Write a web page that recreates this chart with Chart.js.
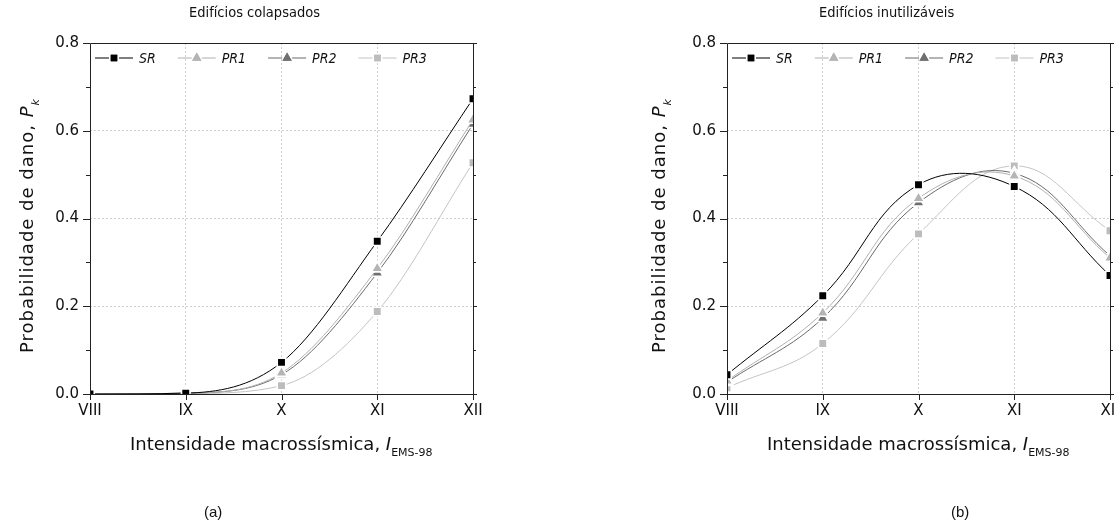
<!DOCTYPE html>
<html>
<head>
<meta charset="utf-8">
<script src="https://cdn.jsdelivr.net/npm/chart.js@4.4.0/dist/chart.umd.min.js"></script>
<style>
  html, body { margin:0; padding:0; width:1115px; height:529px; overflow:hidden; background:#fff; }
  body { position:relative; font-family:"DejaVu Sans",sans-serif; color:#111; }
  .cv { position:absolute; top:0; }
  .t { position:absolute; white-space:nowrap; line-height:1.2; }
  .title { font-family:"DejaVu Sans Condensed","DejaVu Sans",sans-serif; font-size:14.5px; top:4px; }
  .xt { font-size:18px; top:433px; }
  .yt { font-size:18px; letter-spacing:1px; transform-origin:0 0; transform:rotate(-90deg); top:353px; }
  .cap { font-family:"Liberation Sans",Arial,sans-serif; font-size:15px; top:503px; }
  sub { font-size:11px; vertical-align:-6px; letter-spacing:0; }
  i { font-style:italic; }
</style>
</head>
<body>
<div class="cv" style="left:0;width:500px;height:529px;"><canvas id="c1"></canvas></div>
<div class="cv" style="left:637px;width:500px;height:529px;"><canvas id="c2"></canvas></div>

<div class="t title" style="left:189px;">Edifícios colapsados</div>
<div class="t title" style="left:819px;">Edifícios inutilizáveis</div>
<div class="t xt" style="left:130px;">Intensidade macrossísmica, <i>I</i><sub>EMS-98</sub></div>
<div class="t xt" style="left:767px;">Intensidade macrossísmica, <i>I</i><sub>EMS-98</sub></div>
<div class="t yt" style="left:16px;">Probabilidade de dano, <i>P</i><sub><i>k</i></sub></div>
<div class="t yt" style="left:648px;">Probabilidade de dano, <i>P</i><sub><i>k</i></sub></div>
<div class="t cap" style="left:204px;">(a)</div>
<div class="t cap" style="left:951px;">(b)</div>

<script>
// ---- data ----
const intensities = [8, 9, 10, 11, 12];
const xTickLabels = ['VIII', 'IX', 'X', 'XI', 'XII'];
const seriesNames = ['SR', 'PR1', 'PR2', 'PR3'];

// Edifícios colapsados
const colSR  = [0.000, 0.002, 0.072, 0.348, 0.673];
const colPR1 = [0.000, 0.002, 0.048, 0.286, 0.625];
const colPR2 = [0.000, 0.002, 0.044, 0.276, 0.615];
const colPR3 = [0.000, 0.001, 0.019, 0.188, 0.527];

// Edifícios inutilizáveis
const inuSR  = [0.044, 0.224, 0.477, 0.473, 0.270];
const inuPR1 = [0.030, 0.185, 0.446, 0.497, 0.310];
const inuPR2 = [0.027, 0.173, 0.436, 0.503, 0.315];
const inuPR3 = [0.014, 0.115, 0.365, 0.520, 0.372];

// ---- styles ----
const styles = [
  { line:'#000000', fill:'#000000', shape:'rect',     r:6.0 },
  { line:'#b0b0b0', fill:'#b4b4b4', shape:'triangle', r:6.8 },
  { line:'#6a6a6a', fill:'#707070', shape:'triangle', r:6.8 },
  { line:'#c4c4c4', fill:'#bcbcbc', shape:'rect',     r:6.0 },
];
const FONT = '"DejaVu Sans",sans-serif';
const LFONT = '"DejaVu Sans Condensed","DejaVu Sans",sans-serif';

function toPts(arr){ return intensities.map((x,i)=>({x:x, y:arr[i]})); }

function makeDatasets(arrs, mode){
  return arrs.map((a,i)=>({
    label: seriesNames[i],
    data: toPts(a),
    borderColor: styles[i].line,
    borderWidth: 1,
    backgroundColor: styles[i].fill,
    pointStyle: styles[i].shape,
    pointRadius: styles[i].r,
    pointBorderColor: '#ffffff',
    pointBorderWidth: 1.6,
    pointBackgroundColor: styles[i].fill,
    tension: 0.4,
    cubicInterpolationMode: mode,
    clip: 0,
  }));
}

const frame = {
  id:'frame',
  afterDraw(chart){
    const {ctx, chartArea:a, scales:{x,y}} = chart;
    ctx.save();
    ctx.strokeStyle = '#222';
    ctx.lineWidth = 1;
    ctx.beginPath();
    ctx.rect(Math.round(a.left)+0.5, Math.round(a.top)+0.5, Math.round(a.right-a.left), Math.round(a.bottom-a.top));
    ctx.stroke();
    ctx.beginPath();
    for (let v=0; v<=8; v++){
      const py = Math.round(y.getPixelForValue(v/10))+0.5;
      const major = v%2===0;
      ctx.moveTo(a.left, py); ctx.lineTo(a.left-(major?7:4), py);
      ctx.moveTo(a.right, py); ctx.lineTo(a.right+(major?4:3), py);
    }
    for (let v=8; v<=12; v++){
      const px = Math.round(x.getPixelForValue(v))+0.5;
      ctx.moveTo(px, a.bottom); ctx.lineTo(px, a.bottom+6);
    }
    ctx.stroke();
    ctx.restore();
  }
};

const legendPlugin = {
  id:'inlegend',
  afterDraw(chart){
    const {ctx, chartArea:a} = chart;
    ctx.save();
    ctx.font = 'italic 14px ' + LFONT;
    ctx.textBaseline = 'middle';
    let xx = a.left + 5;
    const yy = a.top + 15;
    chart.data.datasets.forEach((ds)=>{
      ctx.strokeStyle = ds.borderColor;
      ctx.lineWidth = 1.2;
      ctx.beginPath();
      ctx.moveTo(xx, yy); ctx.lineTo(xx+14, yy);
      ctx.moveTo(xx+24, yy); ctx.lineTo(xx+38, yy);
      ctx.stroke();
      ctx.fillStyle = ds.pointBackgroundColor;
      Chart.helpers.drawPoint(ctx, {pointStyle: ds.pointStyle, radius: ds.pointRadius-1.4, rotation:0, borderWidth:0}, xx+19, yy);
      ctx.fill();
      ctx.fillStyle = '#111';
      ctx.fillText(ds.label, xx+44, yy+1);
      xx += 44 + ctx.measureText(ds.label).width + 22;
    });
    ctx.restore();
  }
};

function makeChart(id, datasets){
  return new Chart(document.getElementById(id), {
    type:'line',
    data:{ datasets },
    options:{
      responsive:true, maintainAspectRatio:false, animation:false,
      layout:{ padding:{ left:0, top:43, right:27, bottom:105 } },
      plugins:{ legend:{display:false}, tooltip:{enabled:false} },
      scales:{
        x:{
          type:'linear', min:8, max:12,
          afterFit(s){ s.height = 30; },
          afterBuildTicks(s){ s.ticks = intensities.map(v=>({value:v})); },
          ticks:{ callback:(v)=>xTickLabels[intensities.indexOf(v)] || '', color:'#111', font:{family:FONT, size:15}, padding:8, maxRotation:0, autoSkip:false },
          grid:{ color:(c)=> (c.tick && c.tick.value>8 && c.tick.value<12) ? '#cfcfcf' : 'rgba(0,0,0,0)', drawTicks:false, lineWidth:1 },
          border:{ display:false, dash:[2,2] },
        },
        y:{
          min:0, max:0.8,
          afterFit(s){ s.width = 90; },
          afterBuildTicks(s){ s.ticks = [0,0.2,0.4,0.6,0.8].map(v=>({value:v})); },
          ticks:{ callback:(v)=>v.toFixed(1), color:'#111', font:{family:FONT, size:15}, padding:11 },
          grid:{ color:(c)=> (c.tick && c.tick.value>0.01 && c.tick.value<0.79) ? '#cfcfcf' : 'rgba(0,0,0,0)', drawTicks:false, lineWidth:1 },
          border:{ display:false, dash:[2,2] },
        }
      }
    },
    plugins:[frame, legendPlugin]
  });
}

makeChart('c1', makeDatasets([colSR, colPR1, colPR2, colPR3], 'monotone'));
makeChart('c2', makeDatasets([inuSR, inuPR1, inuPR2, inuPR3], 'default'));
</script>
</body>
</html>
